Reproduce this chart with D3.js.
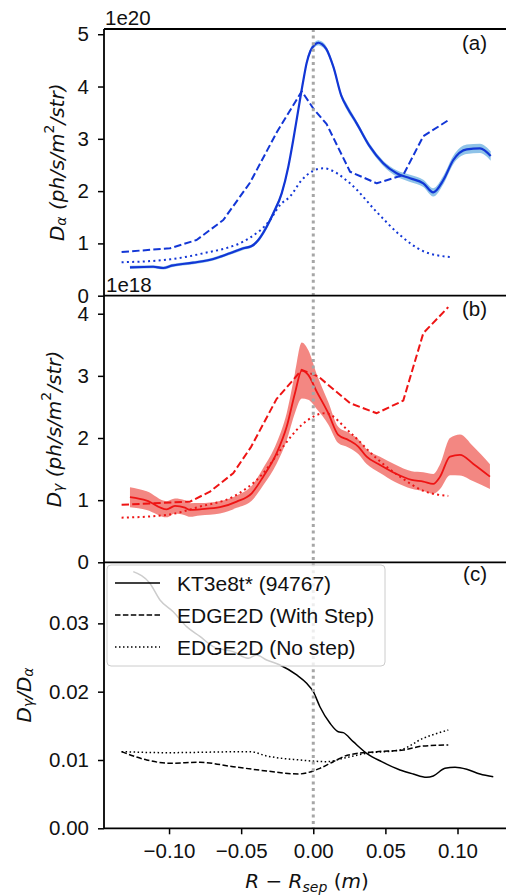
<!DOCTYPE html>
<html><head><meta charset="utf-8">
<script src="https://cdn.jsdelivr.net/npm/d3@7"></script>
<style>body{margin:0;background:#fff}</style>
</head><body>
<svg id="chart" width="506" height="896"></svg>
<script>
// ---------- DATA ----------
// Panel (a): D-alpha, units of 1e20
const ktAlphaX = [-0.1271,-0.1110,-0.1040,-0.0982,-0.0832,-0.0693,-0.0578,-0.0485,-0.0427,-0.0381,-0.0323,-0.0277,-0.0219,-0.0173,-0.0139,-0.0104,-0.0070,-0.0046,-0.0020,0.0010,0.0035,0.0060,0.0090,0.0139,0.0197,0.0232,0.0301,0.0393,0.0485,0.0578,0.0671,0.0763,0.0832,0.0902,0.0971,0.1064,0.1156,0.1230];
const ktAlpha = [0.543,0.554,0.530,0.574,0.631,0.702,0.811,0.906,0.950,1.065,1.319,1.576,1.958,2.467,2.977,3.551,4.100,4.450,4.680,4.800,4.837,4.810,4.720,4.379,3.805,3.614,3.296,2.849,2.532,2.340,2.245,2.149,1.977,2.212,2.595,2.799,2.818,2.671];
const ktAlphaErr = [0.03,0.03,0.03,0.03,0.03,0.03,0.03,0.03,0.03,0.04,0.05,0.05,0.05,0.05,0.05,0.05,0.05,0.05,0.05,0.05,0.05,0.05,0.05,0.05,0.05,0.06,0.05,0.05,0.05,0.06,0.07,0.07,0.08,0.08,0.08,0.09,0.09,0.09];
const stepAlphaX = [-0.1329,-0.0994,-0.0809,-0.0624,-0.0439,-0.0254,-0.0080,0.0000,0.0093,0.0173,0.0255,0.0440,0.0624,0.0763,0.0948];
const stepAlpha = [0.836,0.906,1.065,1.447,2.160,3.120,3.910,3.580,3.280,2.830,2.371,2.149,2.308,3.050,3.376];
const noStepAlphaX = [-0.1329,-0.0994,-0.0786,-0.0439,-0.0300,-0.0231,-0.0162,-0.0080,0.0069,0.0255,0.0440,0.0601,0.0763,0.0948];
const noStepAlpha = [0.639,0.696,0.797,1.109,1.447,1.734,1.893,2.212,2.436,2.149,1.600,1.160,0.850,0.740];

// Panel (b): D-gamma, units of 1e18
const ktGammaX = [-0.1271,-0.1155,-0.1017,-0.0959,-0.0890,-0.0855,-0.0786,-0.0647,-0.0531,-0.0427,-0.0347,-0.0254,-0.0184,-0.0127,-0.0080,-0.0035,0.0024,0.0104,0.0173,0.0243,0.0312,0.0370,0.0463,0.0567,0.0682,0.0763,0.0832,0.0879,0.0948,0.1017,0.1110,0.1225];
const ktGamma = [1.047,0.992,0.853,0.907,0.879,0.842,0.853,0.886,0.976,1.111,1.378,1.755,2.184,2.721,3.085,3.016,2.747,2.399,2.050,1.969,1.862,1.700,1.567,1.433,1.325,1.298,1.261,1.378,1.700,1.728,1.583,1.378];
const ktGammaErr = [0.16,0.15,0.13,0.12,0.12,0.11,0.10,0.10,0.10,0.12,0.14,0.17,0.22,0.32,0.45,0.40,0.28,0.18,0.13,0.12,0.12,0.12,0.13,0.14,0.14,0.15,0.16,0.20,0.30,0.33,0.28,0.20];
const stepGammaX = [-0.1329,-0.0855,-0.0716,-0.0555,-0.0430,-0.0254,-0.0139,-0.0080,0.0035,0.0255,0.0440,0.0624,0.0763,0.0936];
const stepGamma = [0.925,0.976,1.137,1.433,1.862,2.630,2.936,3.097,2.989,2.560,2.399,2.602,3.688,4.106];
const noStepGammaX = [-0.1329,-0.1017,-0.0786,-0.0555,-0.0347,-0.0220,-0.0080,0.0081,0.0255,0.0440,0.0601,0.0763,0.0936];
const noStepGamma = [0.718,0.762,0.896,1.057,1.433,1.830,2.210,2.399,2.090,1.670,1.378,1.150,1.068];

// Panel (c): D-gamma / D-alpha
const ratioX = [-0.1248,-0.1133,-0.1063,-0.0971,-0.0878,-0.0786,-0.0693,-0.0555,-0.0451,-0.0393,-0.0323,-0.0231,-0.0115,-0.0046,0.0000,0.0046,0.0116,0.0173,0.0208,0.0277,0.0370,0.0474,0.0601,0.0693,0.0786,0.0832,0.0913,0.0983,0.1064,0.1156,0.1248];
const ratio = [0.03757,0.03587,0.03343,0.03171,0.02952,0.02810,0.02660,0.02586,0.02489,0.02537,0.02464,0.02391,0.02245,0.02123,0.02000,0.01780,0.01537,0.01414,0.01400,0.01268,0.01098,0.00975,0.00854,0.00795,0.00747,0.00766,0.00878,0.00893,0.00864,0.00795,0.00755];
const stepRatioX = [-0.1329,-0.1155,-0.0994,-0.0786,-0.0555,-0.0323,-0.0104,0.0046,0.0139,0.0243,0.0440,0.0624,0.0763,0.0936];
const stepRatio = [0.01122,0.01000,0.00952,0.00966,0.00902,0.00839,0.00795,0.00878,0.00975,0.01073,0.01122,0.01146,0.01205,0.01220];
const noStepRatioX = [-0.1329,-0.1017,-0.0439,-0.0323,-0.0092,0.0093,0.0208,0.0370,0.0601,0.0763,0.0936];
const noStepRatio = [0.01122,0.01107,0.01122,0.01059,0.01000,0.00975,0.01025,0.01098,0.01146,0.01318,0.01439];

const xTicks = [-0.10,-0.05,0.00,0.05,0.10];
const yTicksA = [0,1,2,3,4,5];
const yTicksB = [0,1,2,3,4];
const yTicksC = [0,0.01,0.02,0.03];
const legendLabels = ["KT3e8t* (94767)","EDGE2D (With Step)","EDGE2D (No step)"];
const panelLabels = ["(a)","(b)","(c)"];
const offsetLabels = ["1e20","1e18"];

// ---------- LAYOUT ----------
const svg = d3.select('#chart');
const L = 104, R = 510;
const tops = [29, 295.7, 562.3], bots = [295.7, 562.3, 828.3];
const x = d3.scaleLinear().domain([-0.1451, 0.1364]).range([L, R]);
const yA = d3.scaleLinear().domain([0, 5.1]).range([bots[0], tops[0]]);
const yB = d3.scaleLinear().domain([0, 4.29]).range([bots[1], tops[1]]);
const yC = d3.scaleLinear().domain([0, 0.03894]).range([bots[2], tops[2]]);
const TF = "'Liberation Sans', Arial, Helvetica, sans-serif";
const MF = "'DejaVu Sans', sans-serif";
const BLUE = "#1236d6", RED = "#ee1414";

const zip = (xs, vs, es) => xs.map((d, i) => ({x: d, v: vs[i], e: es ? es[i] : 0}));

function drawLine(y, data, color, width, dash, curve) {
  const line = d3.line().x(d => x(d.x)).y(d => y(d.v)).curve(curve || d3.curveLinear);
  svg.append('path').datum(data).attr('d', line).attr('fill', 'none')
    .attr('stroke', color).attr('stroke-width', width)
    .attr('stroke-dasharray', dash || null).attr('stroke-linejoin', 'round');
}
function drawBand(y, data, color, op) {
  const area = d3.area().x(d => x(d.x)).y0(d => y(d.v - d.e)).y1(d => y(d.v + d.e)).curve(d3.curveMonotoneX);
  svg.append('path').datum(data).attr('d', area).attr('fill', color).attr('fill-opacity', op).attr('stroke', 'none');
}

// Panel (a)
drawBand(yA, zip(ktAlphaX, ktAlpha, ktAlphaErr), "#8fc3e8", 1);
drawLine(yA, zip(stepAlphaX, stepAlpha), BLUE, 2, "7.4,3.2");
drawLine(yA, zip(noStepAlphaX, noStepAlpha), BLUE, 2, "2,3.3", d3.curveMonotoneX);
drawLine(yA, zip(ktAlphaX, ktAlpha), BLUE, 2.2, null, d3.curveMonotoneX);

// Panel (b)
drawBand(yB, zip(ktGammaX, ktGamma, ktGammaErr), "#f27a74", 0.9);
drawLine(yB, zip(stepGammaX, stepGamma), RED, 2, "7.4,3.2");
drawLine(yB, zip(noStepGammaX, noStepGamma), RED, 2, "2,3.3", d3.curveMonotoneX);
drawLine(yB, zip(ktGammaX, ktGamma), RED, 1.8, null, d3.curveMonotoneX);

// Panel (c)
drawLine(yC, zip(stepRatioX, stepRatio), "#000", 1.5, "5.5,2.4", d3.curveMonotoneX);
drawLine(yC, zip(noStepRatioX, noStepRatio), "#000", 1.5, "1.5,2.5", d3.curveMonotoneX);
drawLine(yC, zip(ratioX, ratio), "#000", 1.5, null, d3.curveMonotoneX);

// vertical separatrix line
svg.append('line').attr('x1', x(0)).attr('x2', x(0)).attr('y1', tops[0]).attr('y2', bots[2])
  .attr('stroke', '#a6a6a6').attr('stroke-width', 3).attr('stroke-dasharray', '3,3.6');

// axes
function yAxis(y, ticks, fmt) {
  const g = svg.append('g').attr('transform', `translate(${L},0)`)
    .call(d3.axisLeft(y).tickValues(ticks).tickFormat(fmt).tickSize(6).tickPadding(9));
  g.select('.domain').remove();
  g.selectAll('line').attr('stroke', '#000').attr('stroke-width', 1.5);
  g.selectAll('text').attr('font-family', TF).attr('font-size', 20.5).attr('fill', '#111');
}
yAxis(yA, yTicksA, d3.format('d'));
yAxis(yB, yTicksB, d3.format('d'));
yAxis(yC, yTicksC, d3.format('.2f'));
const gx = svg.append('g').attr('transform', `translate(0,${bots[2]})`)
  .call(d3.axisBottom(x).tickValues(xTicks).tickFormat(d3.format('.2f')).tickSize(6).tickPadding(9));
gx.select('.domain').remove();
gx.selectAll('line').attr('stroke', '#000').attr('stroke-width', 1.5);
gx.selectAll('text').attr('font-family', TF).attr('font-size', 20.5).attr('fill', '#111');

// spines
const sp = svg.append('g').attr('stroke', '#000').attr('stroke-width', 1.8).attr('fill', 'none');
sp.append('line').attr('x1', L).attr('x2', L).attr('y1', tops[0]).attr('y2', bots[2]);
sp.append('line').attr('x1', R).attr('x2', R).attr('y1', tops[0]).attr('y2', bots[2]);
[tops[0], tops[1], tops[2], bots[2]].forEach(yy => sp.append('line').attr('x1', L).attr('x2', R).attr('y1', yy).attr('y2', yy));

// offset texts
svg.append('text').attr('x', 105).attr('y', 25).attr('font-family', TF).attr('font-size', 20.5).attr('fill', '#111').text(offsetLabels[0]);
svg.append('text').attr('x', 106).attr('y', 291.5).attr('font-family', TF).attr('font-size', 20.5).attr('fill', '#111').text(offsetLabels[1]);

// panel labels
[49.5, 315.5, 581].forEach((yy, i) => svg.append('text').attr('x', 487).attr('y', yy).attr('text-anchor', 'end')
  .attr('font-family', TF).attr('font-size', 20.5).attr('fill', '#111').text(panelLabels[i]));

// y labels
function ylab(cx, cy, parts) {
  const t = svg.append('text').attr('transform', `translate(${cx},${cy}) rotate(-90)`)
    .attr('text-anchor', 'middle').attr('dominant-baseline', 'central')
    .attr('font-family', MF).attr('font-size', 20).attr('fill', '#111');
  parts.forEach(p => {
    const s = t.append('tspan').text(p.t);
    if (p.it) s.attr('font-style', 'italic');
    if (p.fs) s.attr('font-size', p.fs);
    if (p.dy) s.attr('dy', p.dy);
  });
}
ylab(57, 162.3, [{t: 'D', it: 1}, {t: 'α', it: 1, fs: 14, dy: 4}, {t: ' (ph/s/m', it: 1, dy: -4}, {t: '2', fs: 14, dy: -8}, {t: '/str)', it: 1, dy: 8}]);
ylab(54, 429, [{t: 'D', it: 1}, {t: 'γ', it: 1, fs: 14, dy: 4}, {t: ' (ph/s/m', it: 1, dy: -4}, {t: '2', fs: 14, dy: -8}, {t: '/str)', it: 1, dy: 8}]);
ylab(24, 695, [{t: 'D', it: 1}, {t: 'γ', it: 1, fs: 14, dy: 4}, {t: '/D', it: 1, dy: -4}, {t: 'α', it: 1, fs: 14, dy: 4}]);

// x label
const xl = svg.append('text').attr('x', 307).attr('y', 888).attr('text-anchor', 'middle')
  .attr('font-family', MF).attr('font-size', 20).attr('fill', '#111');
xl.append('tspan').attr('font-style', 'italic').text('R');
xl.append('tspan').text(' − ');
xl.append('tspan').attr('font-style', 'italic').text('R');
xl.append('tspan').attr('font-style', 'italic').attr('font-size', 14).attr('dy', 4).text('sep');
xl.append('tspan').attr('dy', -4).text(' (');
xl.append('tspan').attr('font-style', 'italic').text('m');
xl.append('tspan').text(')');

// legend
const lg = svg.append('g');
lg.append('rect').attr('x', 107).attr('y', 565).attr('width', 278).attr('height', 101).attr('rx', 4)
  .attr('fill', '#fff').attr('fill-opacity', 0.8).attr('stroke', '#cccccc').attr('stroke-width', 1);
const dashes = [null, '5.5,2.4', '1.5,2.5'];
[583, 615, 647].forEach((yy, i) => {
  lg.append('line').attr('x1', 115).attr('x2', 160).attr('y1', yy).attr('y2', yy)
    .attr('stroke', '#000').attr('stroke-width', 1.5).attr('stroke-dasharray', dashes[i]);
  lg.append('text').attr('x', 177).attr('y', yy).attr('dominant-baseline', 'central')
    .attr('font-family', TF).attr('font-size', 21).attr('fill', '#111').text(legendLabels[i]);
});
</script>
</body></html>
